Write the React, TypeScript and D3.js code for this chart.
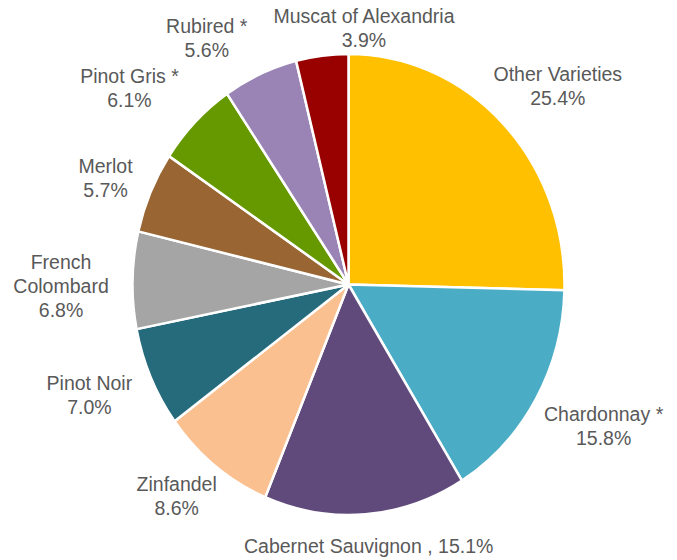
import React from "react";
import * as d3 from "d3";

const categories = [
  "Other Varieties",
  "Chardonnay *",
  "Cabernet Sauvignon",
  "Zinfandel",
  "Pinot Noir",
  "French Colombard",
  "Merlot",
  "Pinot Gris *",
  "Rubired *",
  "Muscat of Alexandria",
];
const shares = [25.4, 15.8, 15.1, 8.6, 7.0, 6.8, 5.7, 6.1, 5.6, 3.9];
const colors = [
  "#FFC000",
  "#4BACC6",
  "#604A7B",
  "#FAC090",
  "#266B7C",
  "#A5A5A5",
  "#996633",
  "#669900",
  "#9A84B6",
  "#990000",
];
// label text lines (label layout per category)
const labelLines: string[][] = [
  ["Other Varieties", "{v}"],
  ["Chardonnay *", "{v}"],
  ["Cabernet Sauvignon , {v}"],
  ["Zinfandel", "{v}"],
  ["Pinot Noir", "{v}"],
  ["French", "Colombard", "{v}"],
  ["Merlot", "{v}"],
  ["Pinot Gris *", "{v}"],
  ["Rubired *", "{v}"],
  ["Muscat of Alexandria", "{v}"],
];
// small manual nudges (px) from the computed outside-end label position
const labelNudges: [number, number][] = [
  [16, 3],
  [21, -2],
  [-1, -26],
  [-5, -15],
  [-12, -6],
  [-17.5, 6.6],
  [4.5, 8.5],
  [-27.5, 6.6],
  [-31.4, 16.8],
  [48.5, 29],
];

const W = 677;
const H = 560;
const cx = 348.5;
const cy = 284.5;
const rx = 216;
const ry = 230.5;
const FONT = 19.5;
const LINE = 24;

export default function App() {
  const data = categories.map((c, i) => ({ name: c, value: shares[i], i }));
  const pie = d3
    .pie<{ name: string; value: number; i: number }>()
    .sort(null)
    .value((d) => d.value)
    .startAngle(0)
    .endAngle(2 * Math.PI);
  const arcs = pie(data);
  const arc = d3
    .arc<d3.PieArcDatum<{ name: string; value: number; i: number }>>()
    .innerRadius(0)
    .outerRadius(rx);
  const fmt = d3.format(".1f");

  return (
    <svg
      width={W}
      height={H}
      style={{ position: "absolute", left: 0, top: 0, background: "#fff" }}
      fontFamily="'Liberation Sans', Arial, sans-serif"
    >
      <g transform={`translate(${cx},${cy}) scale(1,${ry / rx})`}>
        {arcs.map((a, k) => (
          <path
            key={k}
            d={arc(a) || ""}
            fill={colors[a.data.i]}
            stroke="#fff"
            strokeWidth={2.5}
            strokeLinejoin="round"
            vectorEffect="non-scaling-stroke"
          />
        ))}
      </g>
      {arcs.map((a, k) => {
        const mid = (a.startAngle + a.endAngle) / 2;
        const bx = cx + 1.25 * rx * Math.sin(mid) + labelNudges[k][0];
        const by = cy - 1.25 * ry * Math.cos(mid) + labelNudges[k][1];
        const lines = labelLines[k].map((l) =>
          l.replace("{v}", fmt(a.data.value) + "%")
        );
        const n = lines.length;
        return (
          <text
            key={k}
            textAnchor="middle"
            fontSize={FONT}
            fill="#595959"
          >
            {lines.map((l, j) => (
              <tspan key={j} x={bx} y={by + 7 + (j - (n - 1) / 2) * LINE}>
                {l}
              </tspan>
            ))}
          </text>
        );
      })}
    </svg>
  );
}
